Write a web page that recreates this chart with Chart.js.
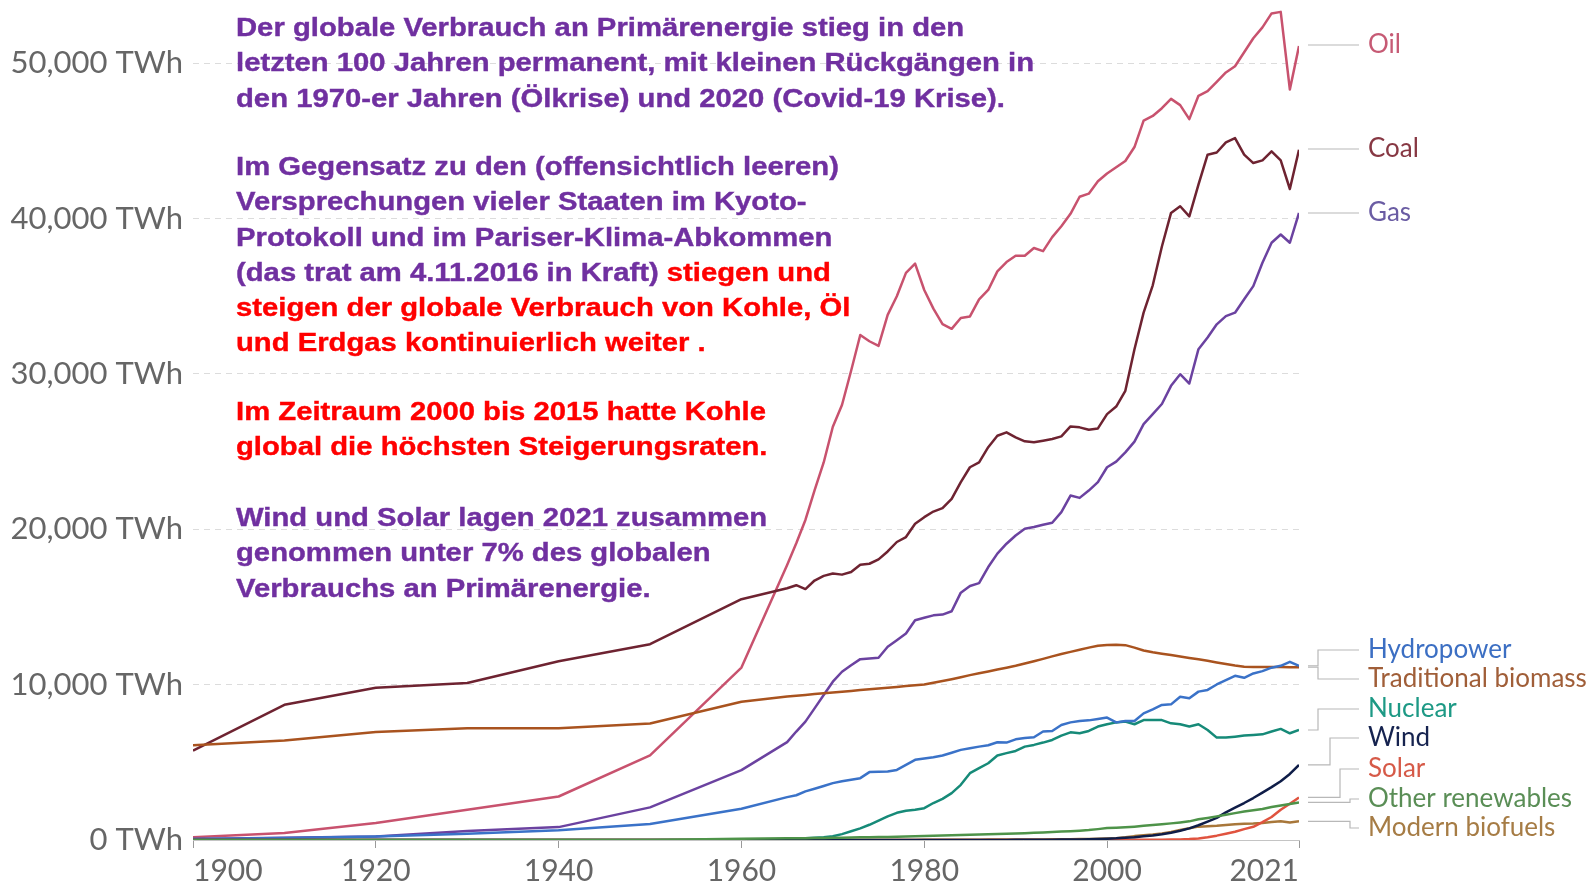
<!DOCTYPE html>
<html lang="de">
<head>
<meta charset="utf-8">
<title>Globaler Primärenergieverbrauch nach Quelle</title>
<script src="https://cdn.jsdelivr.net/npm/chart.js@4.4.1/dist/chart.umd.min.js"></script>
<style>
  html, body { margin: 0; padding: 0; background: #fff; }
  #wrap { position: relative; width: 1595px; height: 885px; overflow: hidden; }
  #chart { position: absolute; left: 0; top: 0; }
  .note {
    position: absolute; left: 236px;
    font-family: "Liberation Sans", Arial, sans-serif; font-weight: bold;
    font-size: 26px; line-height: 35.3px; color: #7030a0;
    -webkit-text-stroke: 0.4px currentColor;
    white-space: nowrap; transform: scaleX(1.125); transform-origin: 0 0;
  }
  .red { color: #ff0000; }
</style>
</head>
<body>
<div id="wrap">
  <canvas id="chart" width="1595" height="885"></canvas>
  <div class="note" style="top:10px">Der globale Verbrauch an Primärenergie stieg in den<br>letzten 100 Jahren permanent, mit kleinen Rückgängen in<br>den 1970-er Jahren (Ölkrise) und 2020 (Covid-19 Krise).</div>
  <div class="note" style="top:149px">Im Gegensatz zu den (offensichtlich leeren)<br>Versprechungen vieler Staaten im Kyoto-<br>Protokoll und im Pariser-Klima-Abkommen<br>(das trat am 4.11.2016 in Kraft) <span class="red">stiegen und<br>steigen der globale Verbrauch von Kohle, Öl<br>und Erdgas kontinuierlich weiter .</span></div>
  <div class="note red" style="top:394px">Im Zeitraum 2000 bis 2015 hatte Kohle<br>global die höchsten Steigerungsraten.</div>
  <div class="note" style="top:500px">Wind und Solar lagen 2021 zusammen<br>genommen unter 7% des globalen<br>Verbrauchs an Primärenergie.</div>
</div>
<script>
// years: decades up to 1960, then yearly
const years = [1900,1910,1920,1930,1940,1950,1960,
  1965,1966,1967,1968,1969,1970,1971,1972,1973,1974,
  1975,1976,1977,1978,1979,1980,1981,1982,1983,1984,
  1985,1986,1987,1988,1989,1990,1991,1992,1993,1994,
  1995,1996,1997,1998,1999,2000,2001,2002,2003,2004,
  2005,2006,2007,2008,2009,2010,2011,2012,2013,2014,
  2015,2016,2017,2018,2019,2020,2021];

// TWh
const oil = [180,450,1100,1950,2800,5450,11100,
  17700,19100,20600,22500,24300,26600,28000,30200,32500,32100,
  31800,33800,35000,36500,37100,35400,34200,33200,32900,33600,
  33700,34800,35400,36600,37200,37600,37600,38100,37900,38800,
  39500,40300,41400,41600,42400,42900,43300,43700,44600,46300,
  46600,47100,47700,47300,46400,47900,48200,48800,49400,49800,
  50700,51600,52300,53200,53300,48300,51100];
const coal = [5750,8700,9800,10100,11500,12600,15500,
  16200,16400,16150,16700,17000,17150,17080,17250,17720,17780,
  18060,18570,19180,19500,20350,20780,21140,21360,21960,23030,
  23990,24310,25280,26020,26240,25920,25660,25600,25700,25810,
  25980,26620,26560,26410,26490,27410,27900,28910,31590,33940,
  35700,38200,40360,40790,40140,42180,44110,44250,44900,45180,
  44110,43570,43740,44320,43740,41900,44430];
const gas = [60,140,230,580,830,2100,4500,
  6300,6980,7620,8470,9330,10190,10830,11250,11640,11680,
  11730,12440,12860,13290,14140,14300,14460,14510,14720,15920,
  16350,16530,17570,18430,19070,19600,20030,20140,20290,20420,
  21100,22170,22020,22490,23030,23990,24350,24950,25640,26770,
  27410,28060,29230,29980,29380,31590,32340,33190,33720,33940,
  34800,35650,37150,38440,38970,38440,40360];
const hydropower = [60,130,230,400,620,1030,2010,
  2760,2880,3130,3300,3480,3660,3780,3880,3980,4370,
  4390,4410,4510,4830,5160,5250,5330,5440,5620,5800,
  5900,6010,6100,6290,6270,6480,6560,6610,6980,7020,
  7400,7570,7660,7700,7790,7880,7570,7660,7660,8150,
  8410,8690,8730,9220,9120,9550,9660,10010,10290,10570,
  10440,10720,10870,11090,11210,11470,11210];
const tradBiomass = [6100,6400,6950,7200,7200,7500,8900,
  9230,9280,9330,9390,9440,9490,9540,9590,9650,9700,
  9750,9800,9850,9910,9960,10010,10120,10230,10350,10480,
  10610,10730,10850,10970,11090,11210,11360,11510,11660,11820,
  11970,12110,12250,12380,12500,12550,12560,12540,12380,12200,
  12080,11990,11900,11810,11720,11640,11540,11430,11330,11230,
  11150,11140,11140,11130,11130,11120,11120];
const nuclear = [0,0,0,0,0,0,0,
  70,90,110,140,180,240,380,560,750,980,
  1250,1520,1750,1880,1950,2050,2380,2650,3020,3550,
  4300,4620,4940,5440,5590,5730,6010,6120,6270,6440,
  6720,6930,6870,7020,7300,7450,7570,7620,7450,7720,
  7720,7720,7510,7450,7300,7450,7080,6590,6590,6650,
  6720,6760,6800,6980,7150,6870,7080];
const wind = [0,0,0,0,0,0,0,
  0,0,0,0,0,0,0,0,0,0,
  0,0,0,0,0,0,0,0,0,0,
  2,3,4,5,7,10,12,15,18,20,
  25,28,35,47,62,85,110,150,180,240,
  290,370,470,600,750,950,1180,1420,1780,2080,
  2380,2700,3050,3400,3780,4250,4830];
const solar = [0,0,0,0,0,0,0,
  0,0,0,0,0,0,0,0,0,0,
  0,0,0,0,0,0,0,0,0,0,
  1,1,1,1,1,1,2,2,2,3,
  3,3,4,4,5,5,6,8,10,12,
  15,18,25,40,60,95,180,280,400,530,
  700,850,1150,1480,1950,2330,2740];
const otherRenewables = [0,0,0,0,0,0,80,
  110,115,120,125,135,140,150,160,170,180,
  190,200,210,225,240,255,270,285,300,320,
  335,350,365,380,400,420,440,460,490,510,
  540,570,600,640,700,770,790,820,860,910,
  960,1010,1070,1130,1200,1330,1420,1520,1620,1730,
  1830,1920,2000,2120,2220,2320,2420];
const modernBiofuels = [0,0,0,0,0,0,0,
  0,0,0,0,0,0,0,0,0,0,
  0,0,0,0,0,10,12,14,16,18,
  20,22,25,28,30,33,35,38,40,45,
  50,55,60,70,80,100,120,170,250,300,
  350,420,520,650,760,860,890,910,960,1010,
  1040,1060,1100,1160,1210,1130,1200];

const xTickYears = [1900,1920,1940,1960,1980,2000,2021];
const yTickValues = [0,10000,20000,30000,40000,50000];

// first entry is drawn on top
const series = [
  {name:'Other renewables', data:otherRenewables, line:'#4e9349', text:'#5a8e56', labelY:799, elbow:1350},
  {name:'Wind', data:wind, line:'#0f1d48', text:'#16234f', labelY:738, elbow:1330},
  {name:'Solar', data:solar, line:'#e0533f', text:'#d65a48', labelY:769, elbow:1340},
  {name:'Modern biofuels', data:modernBiofuels, line:'#a8773a', text:'#a67c45', labelY:828, elbow:1350},
  {name:'Hydropower', data:hydropower, line:'#3a72c8', text:'#3c6fc3', labelY:650, elbow:1318},
  {name:'Nuclear', data:nuclear, line:'#168a78', text:'#1d9985', labelY:709, elbow:1318},
  {name:'Traditional biomass', data:tradBiomass, line:'#a9531f', text:'#a05e38', labelY:679, elbow:1318},
  {name:'Gas', data:gas, line:'#6b42a0', text:'#6a5ca3', labelY:213, elbow:null},
  {name:'Coal', data:coal, line:'#6e2331', text:'#873843', labelY:149, elbow:null},
  {name:'Oil', data:oil, line:'#c8526e', text:'#c65a74', labelY:45, elbow:null}
];

// labels at the line ends, with connector lines
const endLabels = {
  id: 'endLabels',
  afterDatasetsDraw(chart) {
    const ctx = chart.ctx;
    const x0 = chart.chartArea.right + 9, x2 = 1359, tx = 1368;
    ctx.save();
    ctx.font = '26px Lato';
    ctx.textBaseline = 'middle';
    series.forEach((s, i) => {
      const pts = chart.getDatasetMeta(i).data;
      const yEnd = pts[pts.length - 1].y;
      ctx.strokeStyle = '#b8b8b8';
      ctx.lineWidth = 1.2;
      ctx.beginPath();
      if (s.elbow) {
        ctx.moveTo(x0, yEnd); ctx.lineTo(s.elbow, yEnd);
        ctx.lineTo(s.elbow, s.labelY); ctx.lineTo(x2, s.labelY);
      } else {
        ctx.moveTo(x0, s.labelY); ctx.lineTo(x2, s.labelY);
      }
      ctx.stroke();
      ctx.fillStyle = s.text;
      ctx.fillText(s.name, tx, s.labelY);
    });
    ctx.restore();
  }
};

function makeChart() {
  new Chart(document.getElementById('chart').getContext('2d'), {
    type: 'line',
    data: {
      datasets: series.map(s => ({
        label: s.name,
        data: years.map((y, i) => ({x: y, y: s.data[i]})),
        borderColor: s.line,
        borderWidth: 2.5,
        pointRadius: 0,
        tension: 0,
        fill: false,
        borderJoinStyle: 'round'
      }))
    },
    options: {
      responsive: false,
      animation: false,
      layout: {padding: {left: 0, right: 296, top: 1, bottom: 0}},
      plugins: {legend: {display: false}, tooltip: {enabled: false}},
      scales: {
        x: {
          type: 'linear', min: 1900, max: 2021,
          afterBuildTicks: s => { s.ticks = xTickYears.map(v => ({value: v})); },
          afterFit: s => { s.height = 45; s.paddingLeft = 0; s.paddingRight = 0; },
          grid: {drawOnChartArea: false, drawTicks: true, tickLength: 8, color: '#9a9a9a'},
          border: {display: true, color: '#c4c4c4'},
          ticks: {
            autoSkip: false, maxRotation: 0, align: 'inner', padding: 5,
            color: '#666', font: {family: 'Lato', size: 30},
            callback: v => String(v)
          }
        },
        y: {
          min: 0, max: 54000,
          afterBuildTicks: s => { s.ticks = yTickValues.map(v => ({value: v})); },
          afterFit: s => { s.width = 193; s.paddingTop = 0; s.paddingBottom = 0; },
          grid: {color: '#dcdcdc', drawTicks: false},
          border: {display: false, dash: [6, 5]},
          ticks: {
            padding: 10, color: '#666', font: {family: 'Lato', size: 31},
            callback: v => v.toLocaleString('en-US') + ' TWh'
          }
        }
      }
    },
    plugins: [endLabels]
  });
}

document.fonts.load('26px Lato').then(makeChart, makeChart);
</script>
</body>
</html>
